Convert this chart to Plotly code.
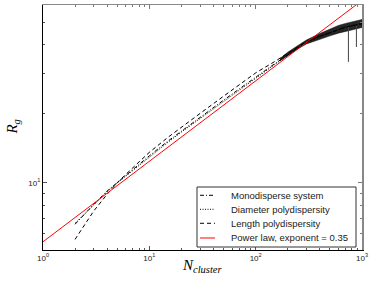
import plotly.graph_objects as go

# ---------------- data ----------------
n_curve = [2, 2.5, 3, 4, 5, 7, 10, 15, 20, 30, 50, 70, 100, 150, 200, 300, 400, 500, 700, 1000]
r_mono = [6.60, 7.40, 8.05, 9.20, 10.05, 11.45, 13.1, 15.2, 16.8, 19.3, 22.9, 25.6, 28.9, 32.9, 36.0, 40.9, 43.4, 44.9, 47.6, 49.3]
r_diam = [6.66, 7.36, 8.00, 9.14, 9.98, 11.34, 12.97, 15.02, 16.62, 19.06, 22.67, 25.39, 28.62, 32.65, 35.92, 40.8, 43.4, 44.9, 47.6, 49.3]
r_len = [5.67, 6.66, 7.54, 8.90, 10.03, 11.63, 13.57, 15.79, 17.47, 20.04, 23.83, 26.69, 30.09, 33.64, 36.47, 41.2, 43.4, 44.9, 47.6, 49.3]

# noisy region envelope (large clusters)
n_noise = [170, 200, 250, 300, 400, 500, 600, 700, 850, 1000]
r_noise_hi = [34.8, 37.0, 39.6, 41.8, 44.6, 46.6, 48.4, 49.4, 50.6, 51.4]
r_noise_lo = [34.0, 35.8, 38.3, 40.2, 42.2, 43.6, 44.8, 45.8, 46.6, 47.4]

# downward spikes in the noisy data
spike_n = [745, 886]
spike_top = [47.5, 48.5]
spike_bottom = [33.6, 39.0]

# power law fit, exponent 0.35 (end points)
n_fit = [1, 1000]
r_fit = [5.54, 62.2]

series_names = ["Monodisperse system", "Diameter polydispersity",
                "Length polydispersity", "Power law, exponent = 0.35"]

x_tickvals = [1, 10, 100, 1000]
x_ticktext = ["10<sup>0</sup>", "10<sup>1</sup>", "10<sup>2</sup>", "10<sup>3</sup>"]
y_tickvals = [10]
y_ticktext = ["10<sup>1</sup>"]

x_minor = [m * 10 ** e for e in range(3) for m in range(2, 10)]
y_minor = [6, 7, 8, 9, 20, 30, 40, 50]

X_RANGE = [0, 3]
Y_RANGE = [0.7076, 1.7738]

# ---------------- styles ----------------
styles = [
    dict(color="black", width=1, dash="4px,2px,1px,2px"),
    dict(color="black", width=1, dash="1px,1.5px"),
    dict(color="black", width=1, dash="4px,3px"),
    dict(color="#ff0000", width=1),
]

# ---------------- figure ----------------
fig = go.Figure()

band_x = n_noise + n_noise[::-1]
band_y = r_noise_hi + r_noise_lo[::-1]
fig.add_trace(go.Scatter(x=band_x, y=band_y, fill="toself", fillcolor="rgba(0,0,0,0.85)",
                         line=dict(color="rgba(0,0,0,0.6)", width=0.8), mode="lines",
                         showlegend=False, hoverinfo="skip"))
for sn, st, sb in zip(spike_n, spike_top, spike_bottom):
    fig.add_trace(go.Scatter(x=[sn, sn], y=[st, sb], mode="lines",
                             line=dict(color="#444444", width=1), showlegend=False,
                             hoverinfo="skip"))

for xs, ys, name, st in zip([n_curve, n_curve, n_curve, n_fit],
                            [r_mono, r_diam, r_len, r_fit], series_names, styles):
    fig.add_trace(go.Scatter(x=xs, y=ys, mode="lines", name=name, line=st, showlegend=False))

tickfont = dict(family="Liberation Sans, Arial", size=8, color="#222222")

# ---------------- legend drawn in paper space ----------------
shapes = [dict(type="rect", xref="paper", yref="paper", x0=0.4828, x1=0.9812,
               y0=0.0122, y1=0.2571, line=dict(color="#333333", width=1),
               fillcolor="white", layer="above")]
annotations = []
row_y = [0.2233, 0.1661, 0.1090, 0.0490]
for yy, name, st in zip(row_y, series_names, styles):
    shapes.append(dict(type="line", xref="paper", yref="paper", x0=0.4922, x1=0.5392,
                       y0=yy, y1=yy, line=st, layer="above"))
    annotations.append(dict(text=name, xref="paper", yref="paper", x=0.5831, y=yy,
                            xanchor="left", yanchor="middle", showarrow=False,
                            font=dict(family="Liberation Sans, Arial", size=9.5, color="#222222")))

annotations += [
    dict(text="<i>N</i><sub><i>cluster</i></sub>", xref="paper", yref="paper",
         x=0.50, y=-0.065, xanchor="center", yanchor="middle", showarrow=False,
         font=dict(family="Liberation Serif, DejaVu Serif", size=15, color="black")),
    dict(text="<i>R</i><sub><i>g</i></sub>", xref="paper", yref="paper",
         x=-0.097, y=0.50, xanchor="center", yanchor="middle", showarrow=False,
         textangle=-90,
         font=dict(family="Liberation Serif, DejaVu Serif", size=15, color="black")),
]

fig.update_layout(
    width=374, height=288,
    margin=dict(l=43, r=12, t=5, b=38, autoexpand=False),
    paper_bgcolor="white", plot_bgcolor="white",
    showlegend=False,
    xaxis=dict(type="log", range=X_RANGE, showgrid=False, zeroline=False, automargin=False,
               showline=True, linecolor="black", linewidth=1,
               ticks="inside", ticklen=4, tickcolor="#555555", tickfont=tickfont,
               tickvals=x_tickvals, ticktext=x_ticktext,
               minor=dict(tickvals=x_minor, ticks="inside", ticklen=2, tickcolor="#555555")),
    yaxis=dict(type="log", range=Y_RANGE, showgrid=False, zeroline=False, automargin=False,
               showline=True, linecolor="black", linewidth=1,
               ticks="inside", ticklen=4, tickcolor="#555555", tickfont=tickfont,
               tickvals=y_tickvals, ticktext=y_ticktext,
               minor=dict(tickvals=y_minor, ticks="inside", ticklen=2, tickcolor="#555555")),
    xaxis2=dict(type="log", range=X_RANGE, overlaying="x", side="top", showgrid=False,
                automargin=False, zeroline=False,
                showline=True, linecolor="#888888", linewidth=1.5, ticks="inside", ticklen=4,
                tickcolor="#777777", tickvals=x_tickvals, showticklabels=False,
                minor=dict(tickvals=x_minor, ticks="inside", ticklen=2, tickcolor="#777777")),
    yaxis2=dict(type="log", range=Y_RANGE, overlaying="y", side="right", showgrid=False,
                automargin=False, zeroline=False,
                showline=True, linecolor="#888888", linewidth=1.5, ticks="inside", ticklen=4,
                tickcolor="#777777", tickvals=y_tickvals, showticklabels=False,
                minor=dict(tickvals=y_minor, ticks="inside", ticklen=2, tickcolor="#777777")),
    shapes=shapes,
    annotations=annotations,
)

# invisible trace to activate the top/right axes
fig.add_trace(go.Scatter(x=[10], y=[10], xaxis="x2", yaxis="y2", mode="markers",
                         marker=dict(opacity=0), showlegend=False, hoverinfo="skip"))

fig.write_html("out.html", config={"displayModeBar": False, "staticPlot": True},
               post_script="document.body.style.margin='0';document.body.style.padding='0';")
